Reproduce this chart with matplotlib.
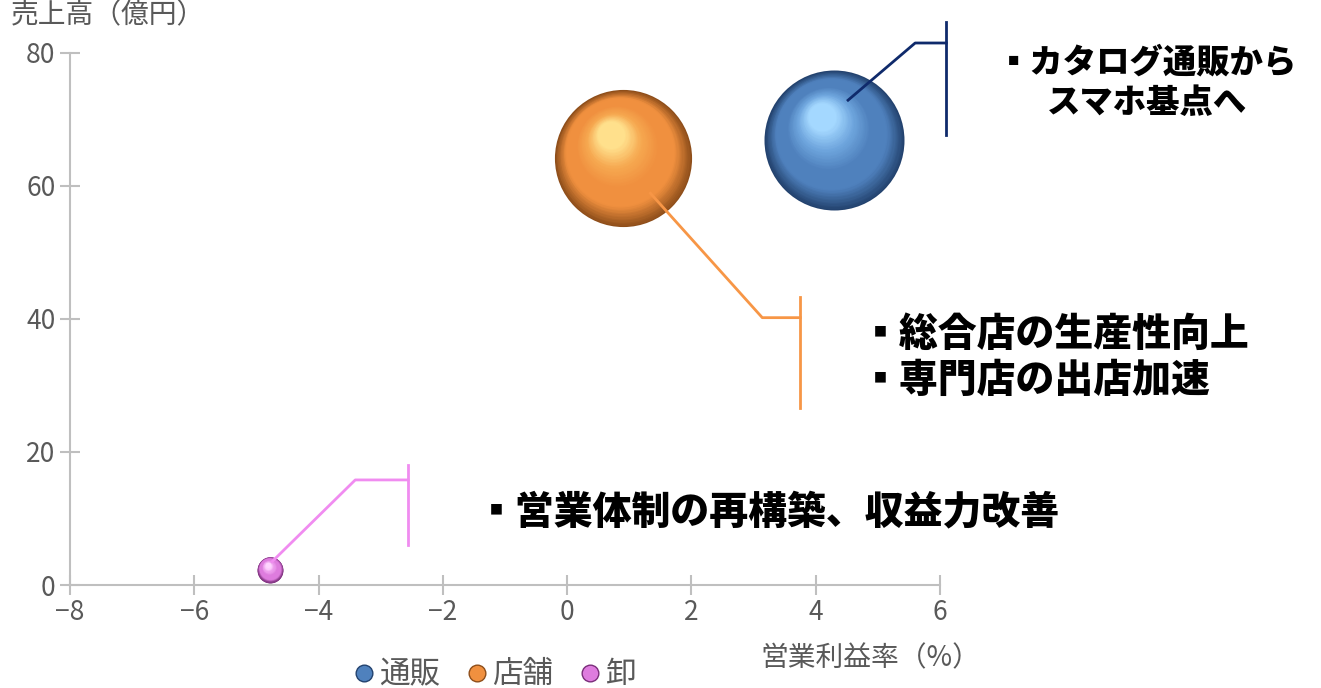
import matplotlib
matplotlib.use("Agg")
import matplotlib.pyplot as plt
import numpy as np
from matplotlib.colors import LinearSegmentedColormap
from matplotlib.lines import Line2D
from matplotlib.transforms import offset_copy

plt.rcParams['font.family'] = ['Noto Sans CJK JP', 'DejaVu Sans']

# data: 営業利益率(%), 売上高(億円)
segments = ["通販", "店舗", "卸"]
margin = [4.3, 0.9, -4.78]
sales = [66.9, 64.2, 2.3]
bubble_size = [66.9, 64.2, 2.3]

edge_cols = ["#23426E", "#8E4E1A", "#7A2E7A"]
base_cols = ["#4F81BD", "#F0903F", "#DE7CDE"]
mid_cols = ["#6FA6DE", "#F6A850", "#EE9EEE"]
hi_cols = ["#A4D8FF", "#FFE08C", "#FFD4FF"]
line_cols = ["#0F2A6B", "#F79646", "#F08CF0"]

# callouts (data coords): leader start, elbow, end ; bar x, bar y range
leader_x = [[4.52, 5.6, 6.1], [1.34, 3.14, 3.75], [-4.75, -3.41, -2.56]]
leader_y = [[72.9, 81.5, 81.5], [58.9, 40.2, 40.2], [3.5, 15.8, 15.8]]
bar_y = [[67.7, 84.7], [26.6, 43.3], [6.0, 18.0]]
notes = ["▪カタログ通販から\nスマホ基点へ",
         "▪総合店の生産性向上\n▪専門店の出店加速",
         "▪営業体制の再構築、収益力改善"]
note_x = [9.33, 4.72, -1.46]
note_y = [75.6, 34.2, 11.0]
note_ha = ["center", "left", "left"]
note_size = [24, 28, 28]

fig = plt.figure(figsize=(13.21, 6.88), dpi=100)
ax = fig.add_axes([0.053, 0.1497, 0.6586, 0.7733])
ax.set_xlim(-8, 6)
ax.set_ylim(0, 80)


def sphere(x, y, s, edge, base, mid, hi, n=50):
    cmap = LinearSegmentedColormap.from_list("sp", [edge, base, base, mid, hi])
    R = np.sqrt(s) / 2
    for i in range(n):
        t = i / (n - 1)
        f = 1 - 0.8 * t
        ox, oy = (1 - f) * R * -0.22, (1 - f) * R * 0.42
        tr = offset_copy(ax.transData, fig=fig, x=ox, y=oy, units='points')
        ax.scatter([x], [y], s=s * f ** 2, color=cmap(t), lw=0,
                   transform=tr, zorder=3 + i * 0.01)


k = 10160 / 66.9
for i in range(len(segments)):
    sphere(margin[i], sales[i], bubble_size[i] * k,
           edge_cols[i], base_cols[i], mid_cols[i], hi_cols[i])

for i in range(len(segments)):
    ax.plot(leader_x[i], leader_y[i], color=line_cols[i], lw=2,
            clip_on=False, zorder=5)
    ax.plot([leader_x[i][-1]] * 2, bar_y[i], color=line_cols[i], lw=2,
            clip_on=False, zorder=5)
    ax.text(note_x[i], note_y[i], notes[i], ha=note_ha[i], va="center",
            multialignment=note_ha[i], fontsize=note_size[i], fontweight="heavy",
            linespacing=1.2, clip_on=False)

for sp in ["top", "right"]:
    ax.spines[sp].set_visible(False)
for sp in ["left", "bottom"]:
    ax.spines[sp].set_color("#BFBFBF")
    ax.spines[sp].set_linewidth(1.5)
ax.set_xticks(np.arange(-8, 7, 2))
ax.set_yticks(np.arange(0, 81, 20))
ax.tick_params(direction="inout", length=14, width=1.5, color="#BFBFBF",
               labelcolor="#595959", labelsize=19)
ax.tick_params(axis="x", pad=3)

fig.text(0.008, 1.0, "売上高（億円）", ha="left", va="top",
         fontsize=20, color="#595959")
fig.text(0.6586, 0.0436, "営業利益率（%）", ha="center", va="center",
         fontsize=20, color="#595959")

handles = [Line2D([], [], ls="", marker="o", markersize=12,
                  markerfacecolor=base_cols[i], markeredgecolor=edge_cols[i])
           for i in range(len(segments))]
leg = fig.legend(handles, segments, loc="center", bbox_to_anchor=(0.375, 0.019),
                 ncol=3, frameon=False, fontsize=22, handlelength=0.6,
                 handletextpad=0.2, columnspacing=0.9, borderpad=0)
for t in leg.get_texts():
    t.set_color("#595959")

fig.savefig("out.png", dpi=100)
